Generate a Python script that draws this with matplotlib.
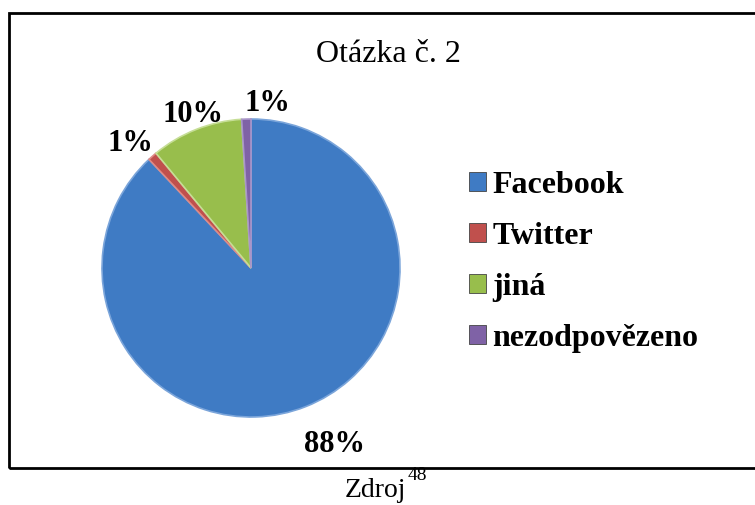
import matplotlib.pyplot as plt
from matplotlib.patches import Rectangle, Patch
import numpy as np

plt.rcParams['font.family'] = ['Liberation Serif', 'DejaVu Serif']

# Data
categories = ["Facebook", "Twitter", "jiná", "nezodpovězeno"]
shares = [88, 1, 10, 1]
pct_labels = ["88%", "1%", "10%", "1%"]
colors = ["#3F7BC4", "#C0504D", "#98BE4C", "#7F62A6"]
edge_colors = ["#7BA5DA", "#DE8A87", "#C6DE96", "#A995C9"]

# label placement (angle in degrees ccw from +x, radius in pie units)
label_angles = [-64.2, 133.4, 110.2, 84.3]
label_radii = [1.29, 1.18, 1.125, 1.135]

fig = plt.figure(figsize=(7.55, 5.05), dpi=100)

# pie axes: centre at (251, 268) px, radius ~149 px
R = 149
ax = fig.add_axes([(251 - 200) / 755, (505 - 268 - 200) / 505, 400 / 755, 400 / 505])

wedges, _ = ax.pie(shares, colors=colors, startangle=90, counterclock=False,
                   radius=1.0, center=(0, 0), frame=True,
                   wedgeprops=dict(linewidth=1.2))
for w, ec in zip(wedges, edge_colors):
    w.set_edgecolor(ec)
lim = 200 / R
ax.set_xlim(-lim, lim)
ax.set_ylim(-lim, lim)
ax.set_aspect("equal")
ax.axis("off")

# percentage labels outside the slices
for lab, ang, r in zip(pct_labels, label_angles, label_radii):
    a = np.deg2rad(ang)
    ax.text(r * np.cos(a), r * np.sin(a), lab, ha="center", va="center_baseline",
            fontsize=22, fontweight="bold")

# title
fig.text(388 / 755, 1 - 62 / 505, "Otázka č. 2", ha="center", va="baseline",
         fontsize=23)

# legend
handles = [Patch(facecolor=c, edgecolor="#444444", linewidth=0.6) for c in colors]
fig.legend(handles, categories, loc="center left",
           bbox_to_anchor=(469 / 755, 1 - 262 / 505),
           frameon=False, prop=dict(size=23, weight="bold"),
           handlelength=0.53, handleheight=0.53, handletextpad=0.2,
           labelspacing=0.69, borderaxespad=0, borderpad=0)

# border around the chart (right side runs past the image edge)
fig.patches.append(Rectangle((9 / 755, 1 - 468 / 505), 760 / 755, 455 / 505,
                             transform=fig.transFigure, fill=False,
                             edgecolor="black", linewidth=2))

# source note below the chart, with superscript footnote number
src = fig.text(345 / 755, 1 - 497 / 505, "Zdroj", ha="left", va="baseline",
               fontsize=20)
fig.canvas.draw()
bb = src.get_window_extent()
fig.text((bb.x1 + 1) / 755, (505 - 467) / 505, "48", fontsize=14,
         ha="left", va="top")

fig.savefig("out.png", dpi=100)
